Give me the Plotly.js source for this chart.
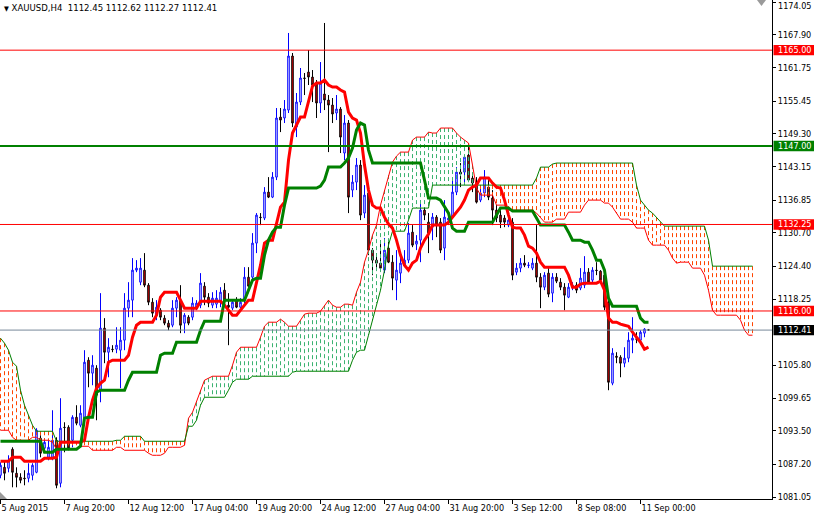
<!DOCTYPE html>
<html><head><meta charset="utf-8">
<script src="https://cdn.plot.ly/plotly-3.0.1.min.js"></script>
<style>html,body{margin:0;padding:0;background:#fff;}#chart{width:814px;height:516px;}</style>
</head><body><div id="chart"></div>
<script>
// ---- DATA (XAUUSD H4) ----
const openP = [
1085.13,1086.63,1086.45,1090.02,1085.51,1084.75,1084.60,1084.57,1085.13,1085.69,
1092.09,1090.21,1088.51,1088.51,1091.71,1083.63,1094.15,1094.15,1091.71,1096.03,
1094.53,1096.03,1106.75,1104.31,1105.25,1101.11,1112.77,1108.25,1108.82,1108.82,
1108.63,1110.51,1116.53,1118.03,1123.67,1121.41,1123.67,1120.85,1117.65,1115.21,
1116.15,1114.65,1113.71,1113.33,1116.53,1118.03,1113.71,1114.83,1114.83,1116.71,
1117.09,1120.66,1118.59,1117.09,1117.28,1117.65,1119.91,1117.09,1116.53,1118.03,
1116.71,1118.03,1122.35,1122.35,1128.75,1133.63,1133.45,1138.33,1137.39,1141.15,
1152.43,1152.25,1153.75,1163.90,1150.55,1155.25,1159.77,1160.89,1159.95,1158.83,
1155.07,1156.76,1155.63,1154.69,1153.19,1153.94,1145.67,1151.31,1138.71,1140.21,
1143.41,1134.39,1138.15,1127.43,1125.55,1124.99,1123.67,1127.81,1125.17,1121.79,
1123.11,1124.61,1125.55,1130.81,1128.56,1129.31,1134.95,1132.69,1131.75,1133.63,
1132.69,1127.81,1133.07,1133.63,1138.33,1142.09,1142.09,1145.29,1140.97,1140.03,
1136.83,1138.15,1139.27,1137.21,1134.95,1134.01,1133.45,1132.13,1132.69,1123.29,
1124.05,1124.99,1124.55,1124.05,1124.99,1122.35,1120.47,1123.11,1119.35,1122.35,
1121.41,1120.47,1118.59,1120.47,1120.85,1120.29,1120.85,1123.29,1121.79,1123.67,
1123.48,1122.73,1117.65,1102.43,1107.50,1107.31,1106.19,1107.13,1110.51,1110.75,
1110.51,1111.83,1112.45];
const highP = [
1087.57,1087.95,1088.89,1090.39,1086.63,1085.51,1086.07,1087.39,1087.39,1093.97,
1092.65,1092.09,1091.71,1097.35,1092.27,1099.61,1095.09,1094.53,1096.41,1098.29,
1098.29,1108.63,1107.31,1107.69,1105.81,1119.35,1114.65,1110.89,1109.57,1112.95,
1112.95,1119.35,1121.41,1125.93,1125.55,1125.93,1126.87,1121.23,1118.41,1118.03,
1116.53,1115.21,1114.27,1118.03,1118.59,1120.85,1115.59,1115.21,1118.59,1118.03,
1123.11,1121.41,1119.35,1119.53,1119.91,1120.47,1121.23,1119.35,1118.03,1118.59,
1118.41,1124.23,1124.23,1130.63,1134.39,1134.39,1139.27,1141.15,1142.09,1154.13,
1154.13,1155.63,1168.23,1164.47,1156.95,1161.65,1160.71,1165.03,1161.27,1159.39,
1162.77,1170.11,1156.57,1156.01,1156.57,1154.31,1152.81,1151.87,1141.53,1144.73,
1144.35,1139.65,1138.71,1127.81,1126.87,1129.31,1129.69,1129.31,1126.49,1127.43,
1127.05,1127.43,1132.51,1132.13,1130.25,1136.83,1135.51,1134.39,1134.39,1134.01,
1133.45,1136.83,1134.57,1140.59,1143.03,1143.79,1145.29,1147.55,1141.91,1141.15,
1139.65,1142.47,1140.59,1138.71,1135.89,1134.95,1134.01,1134.57,1133.45,1124.99,
1125.93,1126.49,1125.17,1125.93,1132.13,1123.11,1123.29,1124.05,1123.11,1123.11,
1122.17,1121.23,1121.23,1121.41,1121.41,1124.05,1126.30,1124.05,1124.23,1125.17,
1123.67,1123.67,1118.03,1109.01,1108.25,1107.69,1109.19,1112.01,1114.83,1112.01,
1112.39,1112.77,1112.62];
const lowP = [
1084.57,1084.19,1085.69,1082.87,1082.87,1083.63,1083.25,1083.81,1084.19,1085.51,
1088.51,1089.83,1087.95,1087.95,1082.69,1082.87,1089.45,1089.83,1090.39,1094.53,
1094.15,1095.47,1101.67,1102.05,1095.47,1098.85,1106.19,1103.55,1108.25,1108.07,
1101.49,1108.63,1114.83,1114.83,1123.29,1120.85,1120.47,1117.09,1114.83,1114.27,
1114.27,1113.33,1112.39,1112.95,1114.83,1111.83,1111.83,1113.33,1114.27,1116.15,
1116.53,1117.09,1116.71,1116.53,1116.53,1116.71,1116.71,1109.57,1116.15,1116.53,
1116.53,1117.47,1119.35,1121.79,1126.87,1132.13,1133.07,1137.21,1137.21,1140.59,
1149.61,1151.31,1153.19,1150.55,1148.67,1154.69,1156.57,1158.45,1155.25,1152.25,
1153.19,1153.75,1145.85,1151.31,1151.87,1145.67,1144.35,1134.39,1137.39,1138.71,
1133.07,1133.45,1126.49,1122.73,1123.67,1123.67,1123.11,1124.99,1119.91,1118.03,
1121.23,1124.23,1124.99,1127.99,1127.43,1125.17,1133.07,1126.87,1129.31,1129.87,
1126.87,1125.55,1132.13,1133.45,1137.77,1139.27,1140.03,1140.21,1138.33,1136.20,
1136.45,1137.39,1136.83,1132.13,1132.69,1131.57,1131.75,1131.75,1121.79,1122.73,
1123.29,1124.23,1124.05,1123.67,1121.41,1116.53,1119.91,1118.59,1117.65,1121.23,
1119.91,1116.15,1118.41,1119.91,1119.35,1119.91,1120.29,1121.23,1121.23,1122.73,
1121.41,1116.15,1101.11,1102.05,1106.19,1103.55,1105.43,1106.37,1108.07,1109.95,
1109.95,1111.07,1112.27];
const closeP = [
1087.01,1085.51,1087.95,1085.69,1084.75,1084.19,1084.50,1085.51,1087.01,1093.59,
1089.27,1091.33,1090.39,1091.71,1083.25,1093.97,1094.10,1090.21,1096.03,1094.91,
1096.79,1106.37,1104.31,1105.81,1100.17,1112.77,1108.25,1109.19,1108.75,1109.57,
1110.51,1116.53,1118.03,1123.67,1124.05,1124.05,1120.85,1117.65,1115.59,1116.71,
1114.83,1113.71,1112.95,1116.53,1118.03,1113.33,1115.21,1113.71,1117.47,1117.47,
1121.23,1118.59,1117.47,1118.41,1118.41,1119.53,1118.03,1116.71,1117.65,1116.71,
1117.65,1122.35,1120.66,1128.75,1134.01,1133.55,1138.33,1137.39,1141.15,1152.25,
1151.87,1153.94,1163.90,1151.31,1155.25,1159.77,1159.70,1159.95,1158.45,1155.07,
1158.83,1155.63,1154.69,1153.00,1153.94,1148.67,1151.31,1137.39,1140.21,1143.41,
1134.01,1137.77,1127.43,1125.55,1124.99,1124.05,1127.43,1125.17,1122.17,1123.67,
1124.99,1125.55,1130.63,1128.37,1129.12,1134.95,1134.01,1130.63,1133.63,1132.13,
1127.43,1133.63,1133.45,1138.33,1142.09,1141.72,1144.91,1140.59,1140.03,1136.45,
1138.15,1141.15,1137.39,1134.95,1133.45,1132.69,1132.69,1133.07,1122.73,1124.05,
1124.99,1124.61,1124.61,1124.99,1122.35,1120.47,1122.73,1119.16,1122.35,1121.60,
1120.47,1118.97,1120.47,1120.85,1119.91,1122.17,1123.29,1121.41,1123.67,1123.60,
1121.79,1116.71,1102.61,1108.07,1107.31,1106.19,1107.13,1110.51,1110.89,1110.70,
1112.01,1112.58,1112.41];
const tenkan = [
1087.76,1087.76,1087.76,1088.51,1088.51,1088.51,1087.76,1087.76,1087.76,1087.76,
1087.76,1088.33,1088.33,1088.33,1088.51,1091.33,1091.33,1091.33,1091.33,1091.33,
1091.33,1091.71,1096.03,1099.23,1101.49,1102.43,1102.99,1106.37,1106.75,1106.75,
1106.75,1106.75,1107.69,1111.07,1113.33,1113.89,1113.89,1113.89,1113.89,1115.21,
1118.59,1119.53,1119.53,1119.53,1119.53,1118.03,1116.53,1116.53,1116.53,1116.53,
1117.84,1117.84,1117.84,1117.84,1117.84,1117.84,1117.09,1116.15,1115.21,1115.21,
1116.15,1116.90,1118.03,1118.03,1121.23,1124.61,1128.75,1129.31,1129.31,1132.69,
1135.51,1136.45,1144.35,1149.43,1150.93,1152.43,1152.43,1155.63,1158.26,1158.83,
1158.83,1159.39,1158.45,1158.07,1158.07,1157.51,1157.13,1153.37,1152.25,1151.87,
1149.43,1143.41,1138.71,1135.89,1135.33,1135.33,1133.63,1132.32,1131.57,1129.31,
1126.49,1124.61,1123.67,1124.99,1125.55,1127.81,1129.31,1130.44,1132.13,1132.13,
1132.13,1132.13,1132.69,1133.63,1134.57,1135.51,1136.83,1138.71,1139.27,1139.65,
1140.97,1140.97,1140.97,1140.03,1139.27,1139.09,1136.83,1134.01,1131.75,1131.57,
1131.57,1130.25,1128.18,1127.81,1126.87,1125.17,1124.23,1124.23,1124.23,1124.23,
1124.23,1124.23,1122.73,1120.47,1120.47,1121.04,1121.23,1121.23,1121.23,1121.23,
1121.60,1119.91,1114.65,1113.89,1113.89,1113.52,1113.33,1113.14,1112.01,1111.07,
1110.13,1108.82,1109.19];
const kijun = [
1091.52,1091.52,1091.52,1091.52,1091.52,1091.52,1091.52,1091.52,1091.52,1091.52,
1091.52,1089.45,1089.45,1089.45,1090.02,1090.02,1090.02,1090.02,1090.02,1090.02,
1090.58,1095.85,1096.03,1096.03,1100.73,1101.11,1101.11,1101.11,1101.11,1101.11,
1101.11,1101.11,1102.99,1104.49,1104.49,1104.49,1104.49,1104.49,1104.49,1104.49,
1107.69,1108.07,1108.07,1108.07,1110.13,1110.13,1110.13,1110.13,1110.13,1110.13,
1112.39,1114.08,1114.08,1114.08,1114.08,1114.08,1118.03,1118.03,1118.03,1118.03,
1118.03,1118.03,1119.91,1121.79,1122.17,1122.17,1126.49,1129.31,1130.81,1131.75,
1131.75,1135.89,1139.09,1139.09,1139.09,1139.09,1139.09,1139.09,1139.09,1139.09,
1139.47,1140.59,1143.03,1143.03,1143.03,1143.03,1143.79,1144.73,1146.61,1149.99,
1151.31,1150.93,1146.23,1143.79,1143.79,1143.79,1143.79,1143.79,1143.79,1143.79,
1143.79,1143.79,1143.79,1143.79,1143.79,1143.79,1140.59,1137.21,1137.21,1137.21,
1136.83,1135.51,1134.39,1131.57,1131.00,1131.00,1131.00,1132.69,1132.69,1132.69,
1132.69,1132.69,1132.69,1132.69,1134.01,1135.33,1135.33,1135.33,1134.76,1134.76,
1134.76,1134.76,1134.76,1134.76,1133.45,1132.13,1132.13,1132.13,1132.13,1132.13,
1132.13,1132.13,1130.81,1129.31,1129.31,1129.31,1128.93,1128.93,1127.43,1125.55,
1125.55,1123.67,1118.41,1116.90,1116.90,1116.90,1116.90,1116.90,1116.90,1116.90,
1114.65,1113.89,1113.89];
const senkouA = [
1093.59,1093.59,1093.59,1092.27,1091.71,1091.71,1091.71,1091.71,1092.27,1092.27,
1091.71,1091.71,1091.71,1091.33,1090.02,1090.02,1090.02,1090.02,1090.02,1090.02,
1090.58,1090.58,1090.58,1089.83,1089.83,1089.83,1089.83,1089.83,1089.83,1090.39,
1090.39,1089.83,1089.83,1089.83,1089.83,1089.83,1089.83,1089.27,1088.89,1088.89,
1088.89,1089.27,1090.39,1090.39,1090.39,1090.39,1090.77,1095.85,1096.97,1098.85,
1101.11,1102.99,1103.37,1103.74,1103.74,1103.74,1103.74,1103.74,1105.81,1108.25,
1109.19,1109.19,1109.19,1109.19,1109.19,1111.07,1113.14,1113.89,1113.89,1113.89,
1114.46,1113.89,1113.14,1113.14,1113.14,1114.27,1115.40,1115.59,1115.59,1115.59,
1115.96,1117.09,1118.03,1117.09,1116.71,1116.71,1117.28,1117.28,1117.09,1119.53,
1121.41,1125.17,1127.43,1130.25,1132.13,1135.89,1138.71,1141.53,1143.97,1145.10,
1145.85,1145.85,1145.85,1148.11,1148.67,1148.67,1148.67,1149.61,1149.43,1149.43,
1150.37,1150.37,1150.37,1150.37,1149.43,1148.67,1148.11,1147.55,1143.41,1139.09,
1137.77,1137.77,1137.77,1137.77,1135.89,1135.89,1135.89,1134.95,1134.95,1134.95,
1134.95,1134.95,1134.95,1134.95,1134.39,1133.63,1132.69,1132.69,1132.69,1133.26,
1133.26,1133.26,1134.57,1134.57,1134.57,1134.57,1135.89,1136.83,1136.83,1136.83,
1136.83,1136.27,1136.27,1135.51,1134.39,1133.26,1133.26,1133.26,1132.69,1131.57,
1131.57,1131.57,1129.31,1128.37,1128.37,1128.37,1128.37,1127.43,1125.93,1124.99,
1125.17,1125.17,1125.17,1124.05,1124.05,1124.05,1122.73,1119.91,1116.15,1115.21,
1115.21,1115.21,1115.21,1115.21,1115.21,1114.27,1112.39,1111.45,1111.45];
const senkouB = [
1110.89,1109.95,1108.63,1106.37,1105.62,1101.11,1098.29,1096.41,1094.53,1093.40,
1093.40,1093.40,1093.40,1093.40,1091.52,1091.52,1091.52,1091.52,1091.52,1091.52,
1091.52,1091.52,1091.52,1091.52,1091.52,1091.52,1091.52,1091.52,1091.52,1091.71,
1091.71,1092.46,1092.46,1092.46,1092.46,1092.46,1091.52,1091.52,1091.52,1091.52,
1091.52,1091.52,1091.52,1091.52,1091.52,1091.52,1091.52,1094.34,1094.34,1095.47,
1098.29,1099.79,1099.79,1099.79,1099.79,1099.79,1099.79,1101.11,1102.61,1103.18,
1103.18,1103.18,1103.18,1103.74,1103.74,1103.74,1103.74,1103.74,1103.74,1103.74,
1103.74,1103.74,1103.74,1104.49,1104.68,1104.68,1104.68,1104.68,1104.68,1104.68,
1104.68,1104.68,1104.68,1104.68,1104.68,1104.68,1104.68,1104.68,1106.75,1108.25,
1108.63,1108.63,1111.45,1114.27,1117.47,1119.91,1123.67,1128.37,1130.99,1130.99,
1130.99,1130.99,1133.07,1135.33,1135.33,1135.33,1135.33,1135.33,1139.65,1139.65,
1139.65,1139.65,1139.65,1139.65,1139.65,1139.65,1139.65,1139.65,1139.65,1139.65,
1139.65,1139.65,1139.65,1139.65,1139.65,1139.65,1139.65,1139.65,1139.65,1139.65,
1139.65,1139.65,1139.65,1139.65,1140.97,1143.03,1143.03,1143.03,1143.60,1143.79,
1143.79,1143.79,1143.79,1143.79,1143.79,1143.79,1143.79,1143.79,1143.79,1143.79,
1143.79,1143.79,1143.79,1143.79,1143.79,1143.79,1143.79,1143.79,1143.79,1139.65,
1136.83,1135.89,1134.95,1134.39,1133.63,1132.69,1131.94,1131.94,1131.94,1131.94,
1131.94,1131.94,1131.94,1131.94,1131.94,1131.94,1131.94,1129.31,1124.42,1124.42,
1124.42,1124.42,1124.42,1124.42,1124.42,1124.42,1124.42,1124.42,1124.42];
const xTickIdx = [0,16,32,48,64,80,96,112,128,144,160];
const xTickText = ['5 Aug 2015','7 Aug 20:00','12 Aug 12:00','17 Aug 04:00','19 Aug 20:00','24 Aug 12:00','27 Aug 04:00','31 Aug 20:00','3 Sep 12:00','8 Sep 08:00','11 Sep 00:00'];
const yTickVals = [1081.05,1087.20,1093.50,1099.65,1105.80,1118.25,1124.40,1130.70,1136.85,1143.15,1149.30,1155.45,1161.75,1167.90,1174.05];
const levelPrices = [1165.00,1147.00,1132.25,1116.00];
const bidPrice = 1112.41;
const headerText = 'XAUUSD,H4  1112.45 1112.62 1112.27 1112.41';

// ---- STYLE ----
const FONT = "'DejaVu Sans Condensed','Liberation Sans',Arial,sans-serif";
const levelStyle = [{color:'#FF0000',w:1},{color:'#008000',w:2},{color:'#FF0000',w:1},{color:'#FF0000',w:1}];
const PLOT_W = 772, PLOT_H = 499, PX_PER_UNIT = 5.3226;
const yTop = 1174.05 + 2/PX_PER_UNIT;
const yBot = yTop - PLOT_H/PX_PER_UNIT;

const barX = openP.map((_, i) => i);
const cloudX = senkouA.map((_, i) => i);
const upX=[], upY=[], dnX=[], dnY=[];
senkouA.forEach((a, i) => {
  const b = senkouB[i];
  if (a >= b) { upX.push(i, i, null); upY.push(a, b, null); }
  else { dnX.push(i, i, null); dnY.push(b, a, null); }
});

const traces = [
  {type:'scatter', mode:'lines', x:upX, y:upY, line:{color:'#3CB371', width:1, dash:'4px,3px'}, hoverinfo:'skip', connectgaps:false},
  {type:'scatter', mode:'lines', x:dnX, y:dnY, line:{color:'#FF4500', width:1, dash:'4px,3px'}, hoverinfo:'skip', connectgaps:false},
  {type:'scatter', mode:'lines', x:cloudX, y:senkouA, line:{color:'#FF0000', width:1}, hoverinfo:'skip'},
  {type:'scatter', mode:'lines', x:cloudX, y:senkouB, line:{color:'#008000', width:1}, hoverinfo:'skip'},
  {type:'candlestick', x:barX, open:openP, high:highP, low:lowP, close:closeP, whiskerwidth:0,
   increasing:{line:{color:'#0000FF', width:1}, fillcolor:'#FFFFFF'},
   decreasing:{line:{color:'#000000', width:1}, fillcolor:'#FF0000'}, hoverinfo:'skip'},
  {type:'scatter', mode:'lines', x:barX, y:tenkan, line:{color:'#FF0000', width:3}, hoverinfo:'skip'},
  {type:'scatter', mode:'lines', x:barX, y:kijun, line:{color:'#008000', width:3}, hoverinfo:'skip'}
];

const shapes = [];
const annotations = [];
const boxHalf = 5.2/PX_PER_UNIT;
levelPrices.forEach((p, k) => {
  shapes.push({type:'line', xref:'paper', x0:0, x1:1, yref:'y', y0:p, y1:p, line:{color:levelStyle[k].color, width:levelStyle[k].w}, layer:'above'});
});
shapes.push({type:'line', xref:'paper', x0:0, x1:1, yref:'y', y0:bidPrice, y1:bidPrice, line:{color:'#778899', width:1}, layer:'above'});
const labelItems = levelPrices.map((p,k)=>({p, bg:levelStyle[k].color})).concat([{p:bidPrice, bg:'#000000'}]);
labelItems.forEach(it => {
  shapes.push({type:'rect', xref:'paper', x0:1+1.5/PLOT_W, x1:1+42/PLOT_W, yref:'y', y0:it.p-boxHalf, y1:it.p+boxHalf, fillcolor:it.bg, line:{width:0}, layer:'above'});
  annotations.push({xref:'paper', x:1, xshift:4, xanchor:'left', yref:'y', y:it.p, yanchor:'middle', showarrow:false,
    text:it.p.toFixed(2), font:{family:FONT, size:9, color:'#FFFFFF'}});
});
// top-most price label kept fully inside the picture
const topTick = yTickVals[yTickVals.length-1];
annotations.push({xref:'paper', x:1, xshift:4, xanchor:'left', yref:'paper', y:1, yanchor:'top', yshift:1, showarrow:false,
  text:topTick.toFixed(2), font:{family:FONT, size:9, color:'#000000'}});
// chart shift markers
shapes.push({type:'path', xref:'paper', yref:'paper', path:`M ${757/PLOT_W} 1 L ${766/PLOT_W} 1 L ${761.5/PLOT_W} ${1-6/PLOT_H} Z`, fillcolor:'#9A9A9A', line:{width:0}, layer:'above'});
shapes.push({type:'path', xref:'paper', yref:'paper', path:`M 0 ${7/PLOT_H} L 0 0 L ${7/PLOT_W} 0 Z`, fillcolor:'#9A9A9A', line:{width:0}, layer:'above'});

annotations.push({xref:'paper', yref:'paper', x:0, y:1, xanchor:'left', yanchor:'top', xshift:2, yshift:0, showarrow:false,
  text:'<span style="font-size:7px">\u25BC</span>\u00A0' + headerText.replace(/ /g,'\u00A0'), font:{family:FONT, size:9.5, color:'#000000'}});

const layout = {
  width:814, height:516,
  margin:{l:0, r:42, t:0, b:17, pad:0},
  paper_bgcolor:'#FFFFFF', plot_bgcolor:'#FFFFFF',
  showlegend:false, boxgap:0.45,
  font:{family:FONT, size:9, color:'#000000'},
  xaxis:{range:[-0.125, 192.875], type:'linear', rangeslider:{visible:false}, showgrid:false, zeroline:false,
    showline:true, linecolor:'#000000', linewidth:1, ticks:'outside', ticklen:4, tickcolor:'#000000', tickwidth:1,
    tickmode:'array', tickvals:xTickIdx, ticktext:xTickText, ticklabelposition:'outside right', ticklabeloverflow:'allow',
    tickfont:{family:FONT, size:9, color:'#000000'}, fixedrange:true},
  yaxis:{range:[yBot, yTop], side:'right', showgrid:false, zeroline:false, showline:true, linecolor:'#000000', linewidth:1,
    ticks:'outside', ticklen:3, tickcolor:'#000000', tickmode:'array', tickvals:yTickVals,
    ticktext:yTickVals.map(v => v === topTick ? '' : v.toFixed(2)),
    tickfont:{family:FONT, size:9, color:'#000000'}, ticklabeloverflow:'allow', fixedrange:true},
  shapes, annotations
};
Plotly.newPlot('chart', traces, layout, {staticPlot:true, displayModeBar:false});
</script></body></html>
